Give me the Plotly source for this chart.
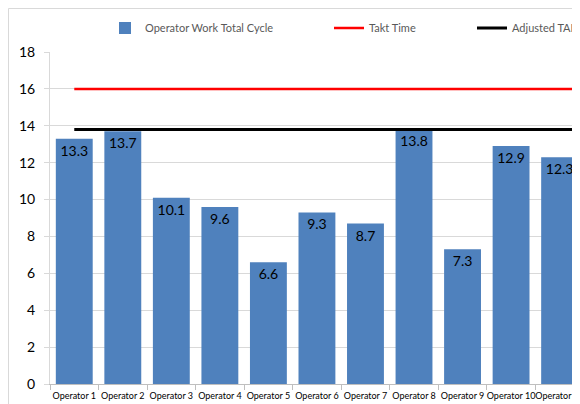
import plotly.graph_objects as go

operators = ["Operator 1", "Operator 2", "Operator 3", "Operator 4", "Operator 5",
             "Operator 6", "Operator 7", "Operator 8", "Operator 9", "Operator 10",
             "Operator 11"]
work_cycle = [13.3, 13.7, 10.1, 9.6, 6.6, 9.3, 8.7, 13.8, 7.3, 12.9, 12.3]
# the takt lines continue past the visible edge of the cropped chart
line_operators = operators + ["Operator 12"]
takt_time = [16, 16, 16, 16, 16, 16, 16, 16, 16, 16, 16, 16]
adjusted_takt = [13.8, 13.8, 13.8, 13.8, 13.8, 13.8, 13.8, 13.8, 13.8, 13.8, 13.8, 13.8]
y_ticks = [0, 2, 4, 6, 8, 10, 12, 14, 16, 18]

FONT = "Lato, 'Open Sans', sans-serif"
OFF = 8  # default page body margin
W, H = 580 - OFF, 404 - OFF
ML, MT, MB = 50 - OFF, 52 - OFF, 20
PW = W - ML
PH = H - MT - MB


def px_x(px):
    # page pixel -> paper fraction
    return (px - OFF - ML) / PW


def px_y(py):
    return (H - MB - (py - OFF)) / PH


fig = go.Figure()
fig.add_trace(go.Bar(
    x=operators, y=work_cycle, name="Operator Work Total Cycle",
    marker=dict(color="#4F81BD", line=dict(width=0)),
    text=[f"{v:.1f}" for v in work_cycle], textposition="inside",
    insidetextanchor="end", textangle=0,
    textfont=dict(family=FONT, size=14, color="#000000"),
    legend="legend",
))
fig.add_trace(go.Scatter(
    x=line_operators, y=takt_time, name="Takt Time", mode="lines",
    line=dict(color="#FF0000", width=2.5), legend="legend2",
))
fig.add_trace(go.Scatter(
    x=line_operators, y=adjusted_takt, name="Adjusted TAKT Time", mode="lines",
    line=dict(color="#000000", width=3), legend="legend3",
))

legend_common = dict(orientation="h", yanchor="middle", xanchor="left",
                     bgcolor="rgba(0,0,0,0)", borderwidth=0,
                     font=dict(family=FONT, size=11, color="#595959"))
fig.update_layout(
    width=W, height=H,
    margin=dict(l=ML, r=0, t=MT, b=MB, autoexpand=False),
    paper_bgcolor="white", plot_bgcolor="white",
    bargap=0.24,
    showlegend=True,
    legend=dict(x=px_x(105), y=px_y(28), **legend_common),
    legend2=dict(x=px_x(329), y=px_y(28), **legend_common),
    legend3=dict(x=px_x(472), y=px_y(28), **legend_common),
    xaxis=dict(
        range=[-0.5, 10.42], type="category",
        categoryorder="array", categoryarray=line_operators,
        showline=True, linecolor="#BFBFBF", linewidth=1,
        ticks="outside", tickson="boundaries", ticklen=5, tickcolor="#BFBFBF",
        tickangle=0, ticklabelstandoff=3,
        tickfont=dict(family=FONT, size=9, color="#000000"),
        showgrid=False, automargin=False, fixedrange=True,
    ),
    yaxis=dict(
        range=[0, 18], tickvals=y_ticks,
        showline=True, linecolor="#D9D9D9", linewidth=1,
        ticks="outside", ticklen=5, tickcolor="#D9D9D9",
        ticklabelstandoff=6,
        tickfont=dict(family=FONT, size=14, color="#000000"),
        showgrid=True, gridcolor="#D9D9D9", gridwidth=1,
        zeroline=False, automargin=False, fixedrange=True,
    ),
    shapes=[
        dict(type="line", xref="paper", yref="paper",
             x0=px_x(8.5), x1=px_x(8.5), y0=px_y(8.5), y1=px_y(420),
             line=dict(color="#D9D9D9", width=1)),
        dict(type="line", xref="paper", yref="paper",
             x0=px_x(8.5), x1=px_x(600), y0=px_y(8.5), y1=px_y(8.5),
             line=dict(color="#D9D9D9", width=1)),
    ],
)

fig.write_html("out.html")
